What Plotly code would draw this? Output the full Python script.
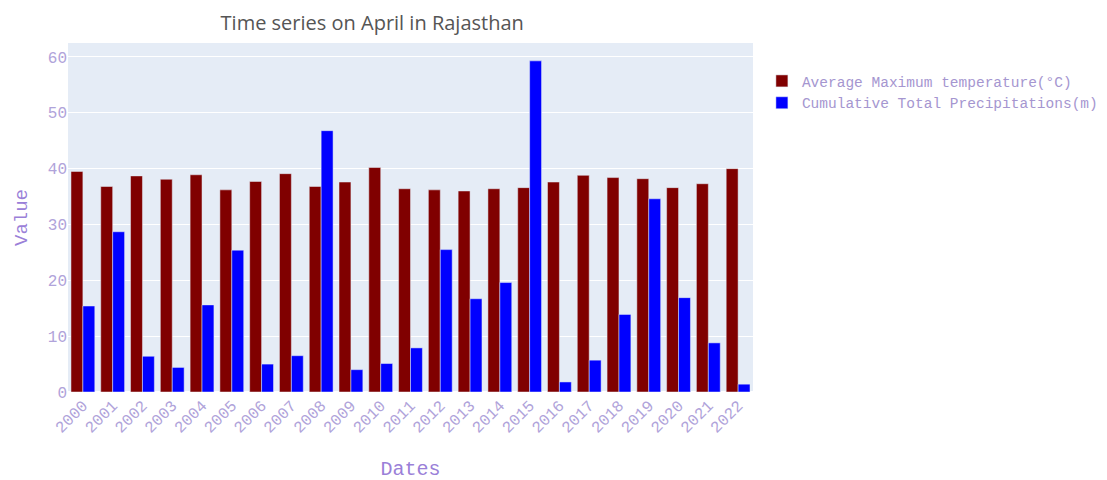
import plotly.graph_objects as go

years = [str(y) for y in range(2000, 2023)]
avg_max_temp = [39.5, 36.8, 38.7, 38.1, 38.9, 36.2, 37.7, 39.1, 36.8, 37.6, 40.2,
                36.4, 36.2, 36.0, 36.4, 36.6, 37.6, 38.8, 38.4, 38.2, 36.6, 37.3, 40.0]
precip = [15.4, 28.7, 6.4, 4.4, 15.6, 25.4, 5.0, 6.5, 46.8, 4.0, 5.1,
          7.9, 25.5, 16.7, 19.6, 59.3, 1.8, 5.7, 13.9, 34.6, 16.9, 8.8, 1.4]

mono = "Courier New, Liberation Mono, monospace"
tick_col = "#b0a3da"
title_col = "#9a80d8"

fig = go.Figure()
fig.add_trace(go.Bar(x=years, y=avg_max_temp, name="Average Maximum temperature(°C)",
                     marker_color="#800000"))
fig.add_trace(go.Bar(x=years, y=precip, name="Cumulative Total Precipitations(m)",
                     marker_color="#0000FF"))

fig.update_layout(
    template="plotly",
    width=1107, height=480,
    barmode="group",
    margin=dict(l=60, r=362, t=35, b=96, autoexpand=False),
    title=dict(text="Time series on April in Rajasthan", x=0.329, xref="container",
               xanchor="center", y=0.968, yanchor="middle",
               font=dict(family="Open Sans", size=20, color="#555")),
    legend=dict(x=1.013, y=0.937, yanchor="top",
                font=dict(family=mono, size=14.5, color="#a596d0")),
    xaxis=dict(title=dict(text="Dates", standoff=24,
                          font=dict(family=mono, size=20, color=title_col)),
               tickangle=-45, tickfont=dict(family=mono, size=16, color=tick_col)),
    yaxis=dict(title=dict(text="Value", font=dict(family=mono, size=19, color=title_col)),
               range=[0, 62.5], dtick=10,
               tickfont=dict(family=mono, size=16, color=tick_col)),
)

fig.write_html("out.html")
